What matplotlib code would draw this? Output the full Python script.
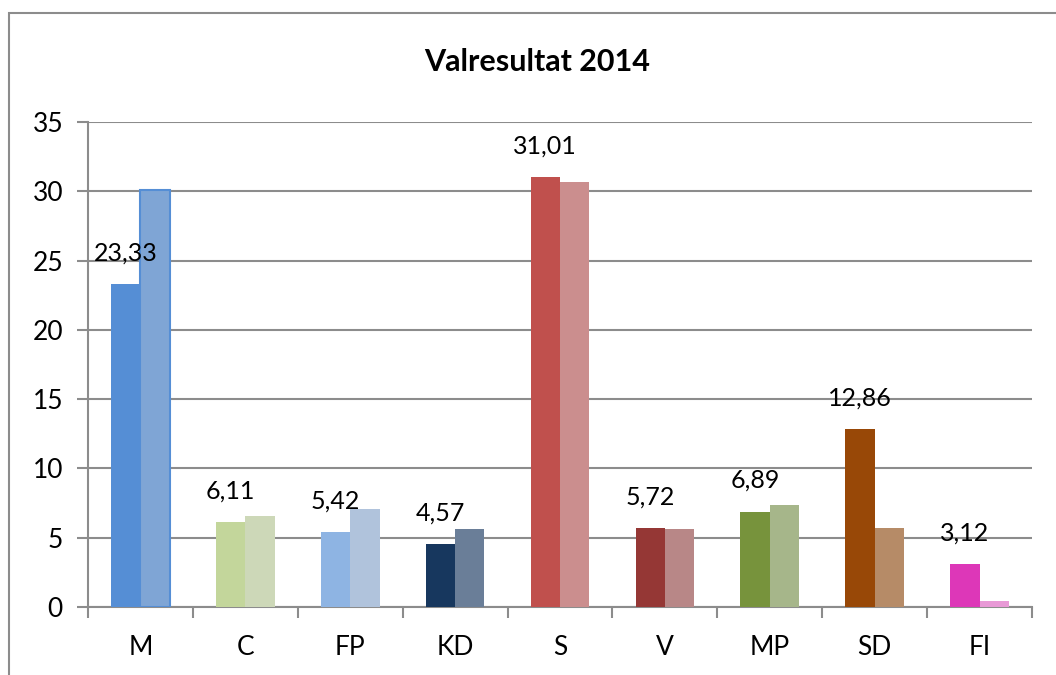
import matplotlib
matplotlib.use('Agg')
import matplotlib.pyplot as plt
import matplotlib.patches as mpatches
import numpy as np

plt.rcParams['font.family'] = ['Lato', 'DejaVu Sans']

parties = ['M', 'C', 'FP', 'KD', 'S', 'V', 'MP', 'SD', 'FI']
res_2014 = [23.33, 6.11, 5.42, 4.57, 31.01, 5.72, 6.89, 12.86, 3.12]
res_2010 = [30.06, 6.56, 7.06, 5.60, 30.66, 5.60, 7.34, 5.70, 0.40]

colors_2014 = ['#558ED5', '#C3D69B', '#8EB4E3', '#17375E', '#C0504D',
               '#953735', '#77933C', '#984807', '#DD37B8']
colors_2010 = ['#7FA5D5', '#CDD8B8', '#B0C3DC', '#6A7E98', '#CB8E8E',
               '#B88787', '#A6B68A', '#B68B67', '#E899D6']

fig = plt.figure(figsize=(10.56, 6.75), dpi=100)
ax = fig.add_axes([88/1056, 1 - 607/675, (1032 - 88)/1056, (607 - 122)/675])

# outer chart frame
fig.patches.append(mpatches.Rectangle((9/1056, -0.05), 1.1, 1 - 13/675 + 0.05,
                                      transform=fig.transFigure, fill=False,
                                      edgecolor='#8c8c8c', linewidth=1.5))

x = np.arange(len(parties))
w = 0.28
ax.bar(x - w/2, res_2014, w, color=colors_2014, zorder=3)
b10 = ax.bar(x + w/2, res_2010, w, color=colors_2010, zorder=3)
b10[0].set_edgecolor('#558ED5')
b10[0].set_linewidth(1.5)

for xi, v in zip(x, res_2014):
    ax.annotate(f'{v:.2f}'.replace('.', ','), xy=(xi - w/2, v), xytext=(0, 31),
                textcoords='offset pixels', ha='center', va='center',
                fontsize=18, color='black', zorder=4)

ax.set_xlim(-0.5, 8.5)
ax.set_ylim(0, 35)
ax.set_yticks(range(0, 36, 5))
ax.set_yticklabels([str(t) for t in range(0, 36, 5)], fontsize=19)
ax.set_xticks(x)
ax.set_xticklabels(parties, fontsize=19)
ax.set_xticks(np.arange(-0.5, 9, 1), minor=True)
ax.tick_params(axis='x', which='major', length=0, pad=20)
ax.tick_params(axis='x', which='minor', length=8, width=1.5, color='#8c8c8c', direction='out')
ax.tick_params(axis='y', length=8, width=1.5, color='#8c8c8c', pad=10)

ax.grid(axis='y', color='#8c8c8c', linewidth=1.5, zorder=0)
for s in ['top', 'right']:
    ax.spines[s].set_visible(False)
for s in ['left', 'bottom']:
    ax.spines[s].set_color('#8c8c8c')
    ax.spines[s].set_linewidth(1.5)

fig.text(537/1056, 1 - 62/675, 'Valresultat 2014', ha='center', va='center',
         fontsize=22, fontweight='bold')

fig.savefig('out.png', dpi=100)
